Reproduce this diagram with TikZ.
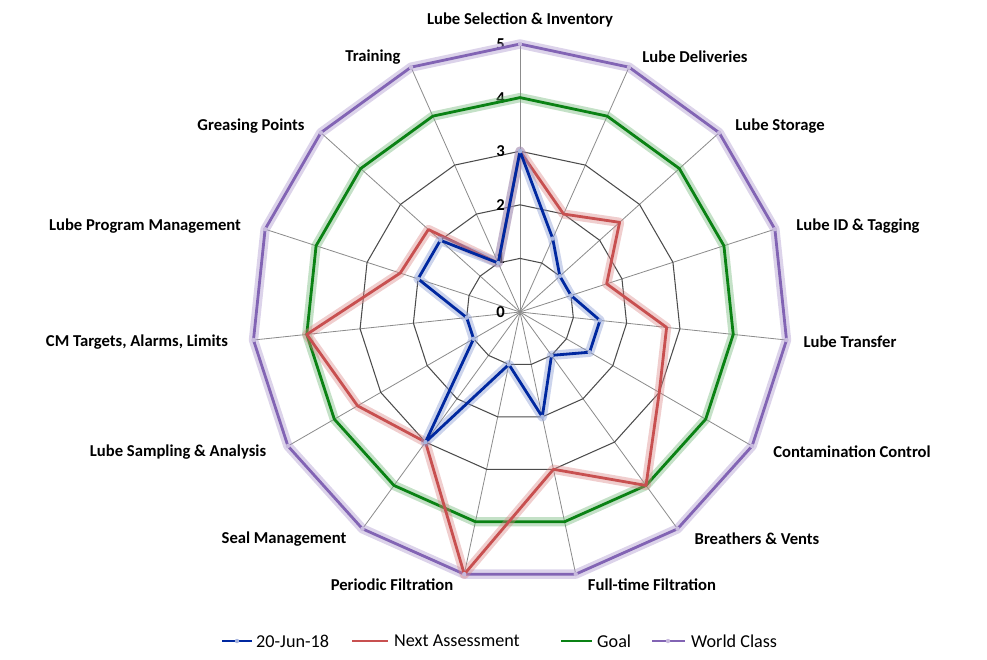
\documentclass[tikz,border=0pt]{standalone}
\usepackage{fontspec}
\setmainfont{Carlito}
\usetikzlibrary{positioning}
\definecolor{curblue}{RGB}{0,40,160}
\definecolor{nextred}{RGB}{200,80,80}
\definecolor{goalgreen}{RGB}{10,130,20}
\definecolor{worldpurple}{RGB}{130,100,180}
\tikzset{
  ring/.style={draw=black!70, line width=0.9pt},
  spoke/.style={draw=black!45, line width=0.7pt},
  catlabel/.style={font=\fontsize{14.2}{16}\selectfont\bfseries, inner sep=0pt},
  ticklabel/.style={font=\fontsize{14.2}{16}\selectfont\bfseries, inner sep=0pt},
  legtext/.style={font=\fontsize{15.5}{17}\selectfont, anchor=west, inner sep=0pt},
  glow/.style={line width=8pt, draw=#1, opacity=0.4, line join=round},
  series/.style={line width=2.4pt, draw=#1, line join=round},
  marker/.style={fill=#1, draw=none}
}
% radar series: name, values
\newcommand{\radarseries}[2]{%
  \foreach \v [count=\i from 0] in {#2}
    \coordinate (#1\i) at ({520+53.6*\v*sin(24*\i)},{312-53.6*\v*cos(24*\i)});
}
\begin{document}
\begin{tikzpicture}[x=0.03cm, y=-0.03cm]
    \useasboundingbox (0,0) rectangle (987,659);

    % Grid
    \foreach \i in {0,...,14}
      \draw[spoke] (520,312) -- ({520+268*sin(24*\i)},{312-268*cos(24*\i)});
    \foreach \r in {1,...,5}
      \draw[ring] ({520},{312-53.6*\r}) \foreach \i in {1,...,14} { -- ({520+53.6*\r*sin(24*\i)},{312-53.6*\r*cos(24*\i)}) } -- cycle;

    % Tick labels
    \foreach \r in {0,...,5}
      \node[ticklabel, anchor=east] (tick\r) at (505,{312-53.6*\r}) {\r};

    % Series
    \radarseries{wc}{5,5,5,5,5,5,5,5,5,5,5,5,5,5,5}
    \radarseries{goal}{4,4,4,4,4,4,4,4,4,4,4,4,4,4,4}
    \radarseries{nxt}{3,2,2.5,1.7,2.75,3,4,3,5,3,3.5,4,2.35,2.3,1}
    \radarseries{cur}{3,1.5,1,1,1.5,1.5,1,2,1,3,1,1,2,2,1}

    \draw[glow=worldpurple!70] (wc0) \foreach \i in {1,...,14} {-- (wc\i)} -- cycle;
    \draw[series=worldpurple] (wc0) \foreach \i in {1,...,14} {-- (wc\i)} -- cycle;
    \draw[glow=goalgreen!60] (goal0) \foreach \i in {1,...,14} {-- (goal\i)} -- cycle;
    \draw[series=goalgreen] (goal0) \foreach \i in {1,...,14} {-- (goal\i)} -- cycle;
    \draw[glow=nextred!70] (nxt0) \foreach \i in {1,...,14} {-- (nxt\i)} -- cycle;
    \draw[series=nextred] (nxt0) \foreach \i in {1,...,14} {-- (nxt\i)} -- cycle;
    \draw[glow=curblue!50] (cur0) \foreach \i in {1,...,14} {-- (cur\i)} -- cycle;
    \draw[series=curblue] (cur0) \foreach \i in {1,...,14} {-- (cur\i)} -- cycle;
    \foreach \i in {0,...,14} {
      \fill[marker=worldpurple!45] (wc\i) circle (2.2);
      \fill[marker=curblue!35] (cur\i) circle (2.2);
    }

    % Category labels
    \node[catlabel] (lsi) at (520,20) {Lube Selection \& Inventory};
    \node[catlabel] (ldl) at (695,57) {Lube Deliveries};
    \node[catlabel] (lst) at (780,126) {Lube Storage};
    \node[catlabel] (lid) at (858,226) {Lube ID \& Tagging};
    \node[catlabel] (ltr) at (850,342) {Lube Transfer};
    \node[catlabel] (cco) at (852,452) {Contamination Control};
    \node[catlabel] (brv) at (757,539) {Breathers \& Vents};
    \node[catlabel] (ftf) at (652,585) {Full-time Filtration};
    \node[catlabel] (pef) at (392,585) {Periodic Filtration};
    \node[catlabel] (slm) at (284,539) {Seal Management};
    \node[catlabel] (lsa) at (178,452) {Lube Sampling \& Analysis};
    \node[catlabel] (cmt) at (137,342) {CM Targets, Alarms, Limits};
    \node[catlabel] (lpm) at (145,226) {Lube Program Management};
    \node[catlabel] (grp) at (251,126) {Greasing Points};
    \node[catlabel] (trn) at (373,57) {Training};

    % Legend
    \draw[series=curblue, line width=2.5pt] (222,641) -- (252,641);
    \fill[marker=curblue!35] (237,641) circle (2.2);
    \node[legtext] (legcur) at (256,641) {20-Jun-18};
    \draw[series=nextred, line width=2.5pt] (352,641) -- (388,641);
    \node[legtext] (legnxt) at (394,641) {Next Assessment};
    \draw[series=goalgreen, line width=2.5pt] (561,641) -- (592,641);
    \node[legtext] (leggoal) at (597,641) {Goal};
    \draw[series=worldpurple, line width=2.5pt] (652,641) -- (685,641);
    \fill[marker=worldpurple!45] (668,641) circle (2.2);
    \node[legtext] (legwc) at (691,641) {World Class};
\end{tikzpicture}
\end{document}
